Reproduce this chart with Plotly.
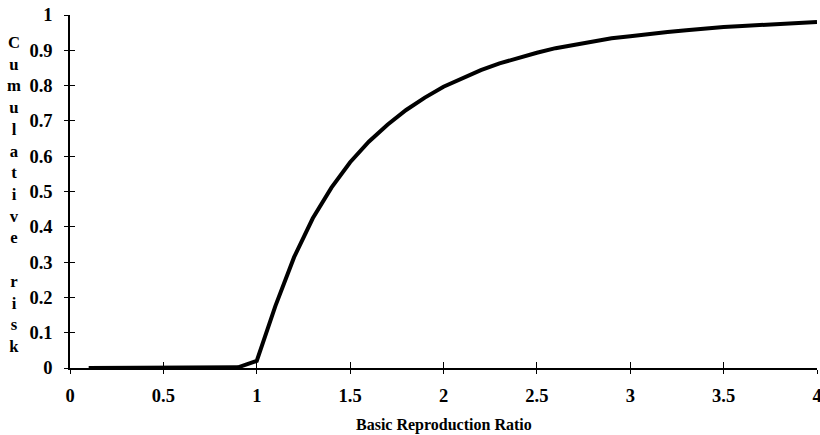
import plotly.graph_objects as go

ratio = [0.1, 0.2, 0.3, 0.4, 0.5, 0.6, 0.7, 0.8, 0.9, 1.0,
         1.1, 1.2, 1.3, 1.4, 1.5, 1.6, 1.7, 1.8, 1.9, 2.0,
         2.1, 2.2, 2.3, 2.4, 2.5, 2.6, 2.7, 2.8, 2.9, 3.0,
         3.1, 3.2, 3.3, 3.4, 3.5, 3.6, 3.7, 3.8, 3.9, 4.0]
risk = [0, 0, 0, 0, 0, 0, 0, 0, 0.002, 0.02,
        0.176, 0.314, 0.424, 0.511, 0.583, 0.641, 0.689, 0.731, 0.766, 0.797,
        0.822, 0.844, 0.863, 0.879, 0.893, 0.906, 0.916, 0.926, 0.934, 0.940,
        0.947, 0.952, 0.957, 0.962, 0.966, 0.969, 0.972, 0.975, 0.978, 0.980]

x_ticks = [0, 0.5, 1, 1.5, 2, 2.5, 3, 3.5, 4]
x_tick_text = ["0", "0.5", "1", "1.5", "2", "2.5", "3", "3.5", "4"]
y_ticks = [0, 0.1, 0.2, 0.3, 0.4, 0.5, 0.6, 0.7, 0.8, 0.9, 1]
y_tick_text = ["0", "0.1", "0.2", "0.3", "0.4", "0.5", "0.6", "0.7", "0.8", "0.9", "1"]

x_title = "Basic Reproduction Ratio"
y_title = "Cumulative risk"

serif = "Liberation Serif, Times New Roman, serif"

fig = go.Figure()
fig.add_trace(go.Scatter(x=ratio, y=risk, mode="lines", cliponaxis=False,
                         line=dict(color="black", width=4), showlegend=False))
fig.add_trace(go.Scatter(x=[0], y=[0], mode="markers", marker=dict(opacity=0),
                         xaxis="x2", yaxis="y2", showlegend=False, hoverinfo="skip"))

tickstyle = dict(showgrid=False, zeroline=False, tickcolor="black", tickwidth=1.2,
                 automargin=False)

fig.update_layout(
    width=820, height=435,
    margin=dict(l=70, r=3, t=15, b=67),
    paper_bgcolor="white", plot_bgcolor="white",
    font=dict(family=serif, color="black", size=18),
    xaxis=dict(range=[0, 4], tickvals=x_ticks, ticktext=x_tick_text,
               ticks="outside", ticklen=4, showline=True, linecolor="black", linewidth=1.5,
               ticklabelstandoff=6, ticklabeloverflow="allow",
               tickfont=dict(family=serif, size=18.5, weight="bold"),
               **tickstyle),
    yaxis=dict(range=[0, 1], tickvals=y_ticks, ticktext=y_tick_text,
               ticks="outside", ticklen=4, showline=True, linecolor="black", linewidth=1.5,
               ticklabelstandoff=8, ticklabeloverflow="allow",
               tickfont=dict(family=serif, size=18.5, weight="bold"),
               **tickstyle),
    xaxis2=dict(range=[0, 4], tickvals=x_ticks, ticks="inside", ticklen=6,
                showticklabels=False, overlaying="x", anchor="y", side="bottom",
                showline=False, **tickstyle),
    yaxis2=dict(range=[0, 1], tickvals=y_ticks, ticks="inside", ticklen=5,
                showticklabels=False, overlaying="y", anchor="x", side="left",
                showline=False, **tickstyle),
)

fig.add_annotation(text=x_title, xref="paper", yref="paper", x=0.5, y=0,
                   xanchor="center", yanchor="middle", yshift=-57, showarrow=False,
                   font=dict(family=serif, size=16, weight="bold"))

letters = "<br>".join(ch if ch != " " else "&nbsp;" for ch in y_title)
fig.add_annotation(text=letters, xref="paper", yref="paper", x=0, y=0.5,
                   xanchor="center", yanchor="middle",
                   xshift=-56, yshift=-3, showarrow=False, align="center",
                   font=dict(family=serif, size=16.7, weight="bold"))

fig.write_html("out.html", config={"displayModeBar": False},
               post_script="document.body.style.margin='0';document.body.style.overflow='hidden';")
